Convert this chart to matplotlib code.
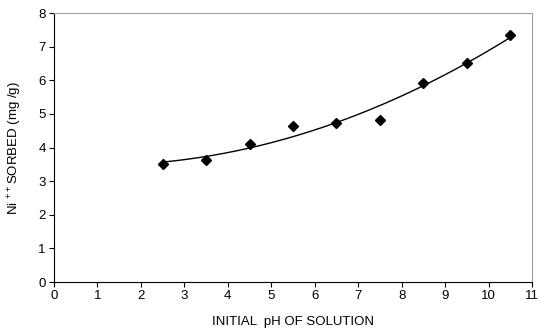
import numpy as np
import matplotlib
matplotlib.use('Agg')
import matplotlib.pyplot as plt

plt.rcParams['font.family'] = 'Liberation Sans'
plt.rcParams['mathtext.default'] = 'regular'

# data
ph = [2.5, 3.5, 4.5, 5.5, 6.5, 7.5, 8.5, 9.5, 10.5]
sorbed = [3.51, 3.63, 4.12, 4.64, 4.73, 4.82, 5.93, 6.52, 7.34]

fig = plt.figure(figsize=(5.39, 3.35), dpi=100)
ax = fig.add_axes([0.1002, 0.158, 0.8868, 0.803])

# second order trendline through the points
coef = np.polyfit(ph, sorbed, 2)
xs = np.linspace(min(ph), max(ph), 200)
ax.plot(xs, np.polyval(coef, xs), color='black', lw=1)
ax.plot(ph, sorbed, 'D', color='black', ms=5)

ax.set_xlim(0, 11)
ax.set_ylim(0, 8)
ax.set_xticks(range(0, 12))
ax.set_yticks(range(0, 9))
ax.tick_params(direction='out', length=3.5, width=0.8, labelsize=9.5, color='black', pad=2.5)
for s in ['top', 'right']:
    ax.spines[s].set_color('#a0a0a0')
ax.set_xlabel('INITIAL  pH OF SOLUTION', fontsize=9.5, labelpad=10)
ax.set_ylabel('Ni $^{++}$SORBED (mg /g)', fontsize=9.5, labelpad=10)

fig.savefig('out.png', dpi=100)
